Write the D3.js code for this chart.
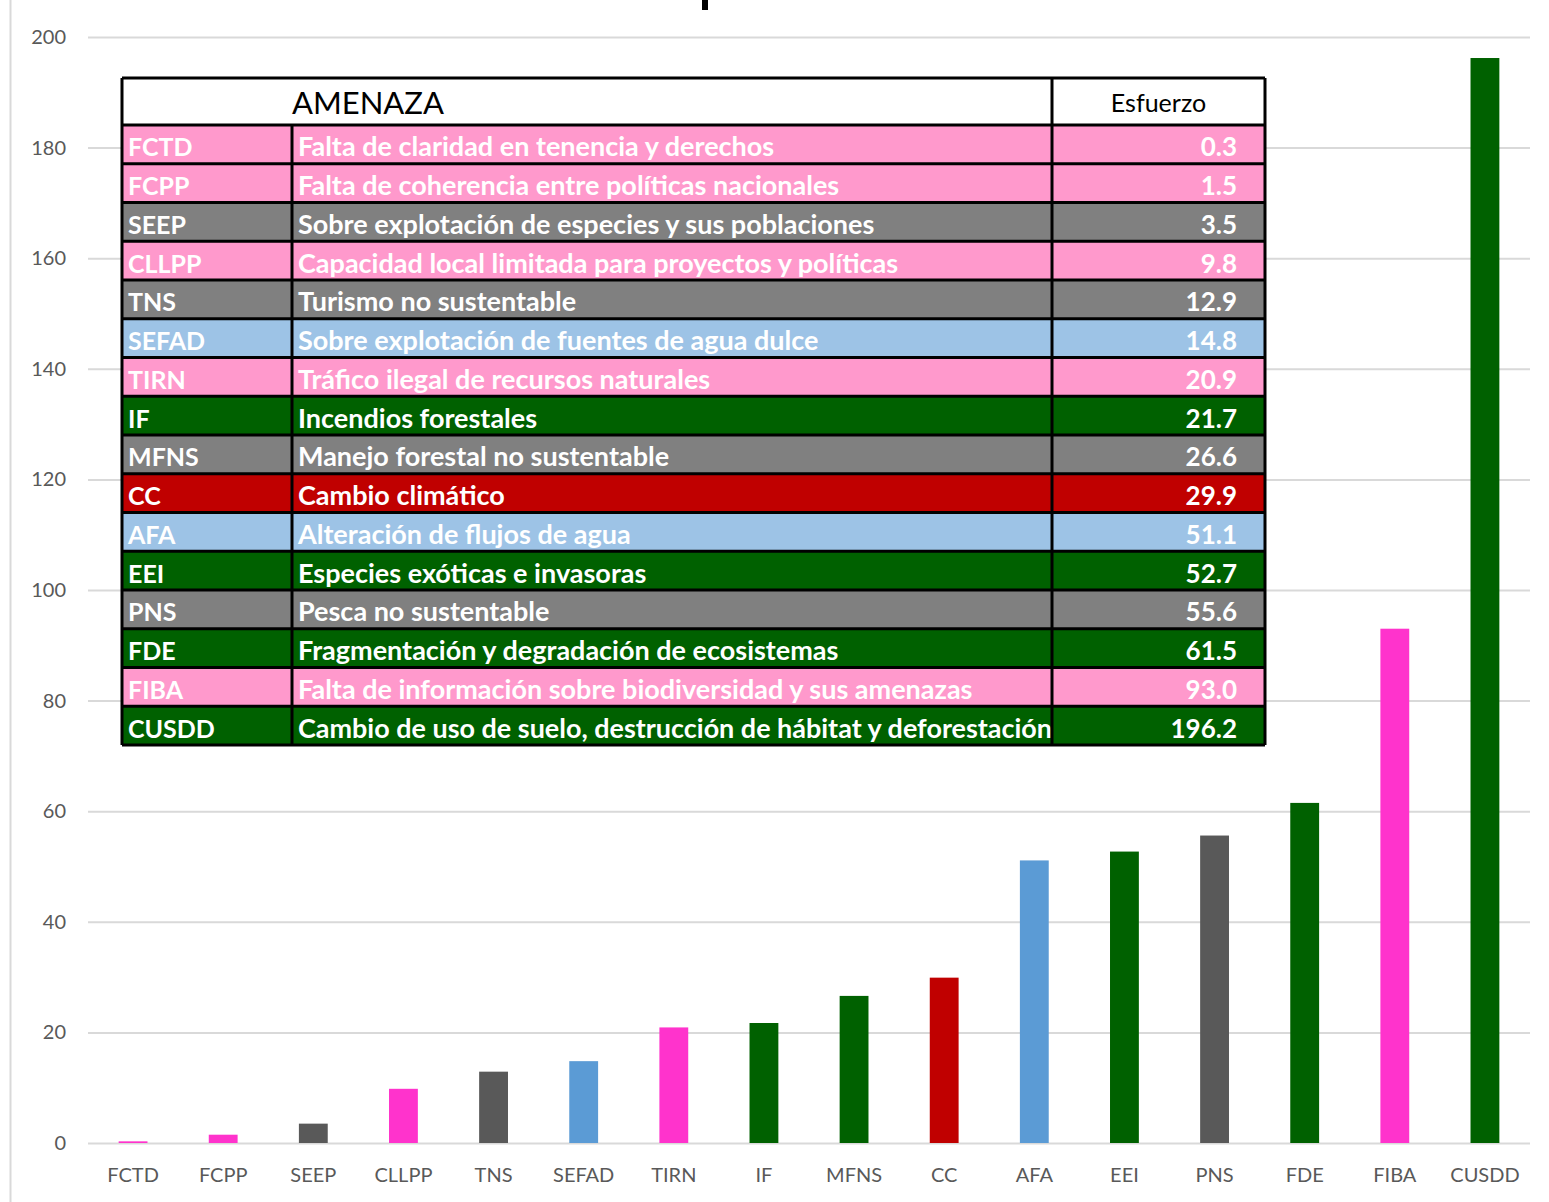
<!DOCTYPE html>
<html>
<head>
<meta charset="utf-8">
<script src="https://cdn.jsdelivr.net/npm/d3@7"></script>
<style>
  body { margin: 0; background: #fff; }
  svg { display: block; }
</style>
</head>
<body>
<div id="chart"></div>
<script>
const codes = ["FCTD", "FCPP", "SEEP", "CLLPP", "TNS", "SEFAD", "TIRN", "IF", "MFNS", "CC", "AFA", "EEI", "PNS", "FDE", "FIBA", "CUSDD"];
const names = [
  "Falta de claridad en tenencia y derechos",
  "Falta de coherencia entre políticas nacionales",
  "Sobre explotación de especies y sus poblaciones",
  "Capacidad local limitada para proyectos y políticas",
  "Turismo no sustentable",
  "Sobre explotación de fuentes de agua dulce",
  "Tráfico ilegal de recursos naturales",
  "Incendios forestales",
  "Manejo forestal no sustentable",
  "Cambio climático",
  "Alteración de flujos de agua",
  "Especies exóticas e invasoras",
  "Pesca no sustentable",
  "Fragmentación y degradación de ecosistemas",
  "Falta de información sobre biodiversidad y sus amenazas",
  "Cambio de uso de suelo, destrucción de hábitat y deforestación"
];
const esfuerzo = [0.3, 1.5, 3.5, 9.8, 12.9, 14.8, 20.9, 21.7, 26.6, 29.9, 51.1, 52.7, 55.6, 61.5, 93.0, 196.2];
// colour group per threat, table rows and bars (s = social, e = species, w = water, g = forest, c = climate)
const rowGroups = ["s", "s", "e", "s", "e", "w", "s", "g", "e", "c", "w", "g", "e", "g", "s", "g"];
const barGroups = ["s", "s", "e", "s", "e", "w", "s", "g", "g", "c", "w", "g", "e", "g", "s", "g"];
const yTicks = [0, 20, 40, 60, 80, 100, 120, 140, 160, 180, 200];

const barColor = {s: "#FF33CC", e: "#595959", w: "#5B9BD5", g: "#006100", c: "#C00000"};
const rowColor = {s: "#FF99CC", e: "#808080", w: "#9DC3E6", g: "#006100", c: "#C00000"};

const W = 1549, H = 1202;
const svg = d3.select("#chart").append("svg")
    .attr("width", W)
    .attr("height", H);

// left frame line of the original picture
svg.append("line")
    .attr("x1", 10.5).attr("x2", 10.5)
    .attr("y1", 0).attr("y2", H)
    .attr("stroke", "#D9D9D9")
    .attr("stroke-width", 2);

// clipped fragment of the title at the very top
svg.append("rect")
    .attr("x", 702).attr("y", 0)
    .attr("width", 6).attr("height", 10)
    .attr("fill", "#000");

const x = d3.scaleBand()
    .domain(codes)
    .range([88, 1530])
    .paddingInner(0.68)
    .paddingOuter(0.34);

const y = d3.scaleLinear()
    .domain([0, 200])
    .range([1143, 37]);

// gridlines + labels
const yAxis = svg.append("g")
    .attr("transform", "translate(88,0)")
    .call(d3.axisLeft(y).tickValues(yTicks).tickSize(-(1530 - 88)).tickPadding(22));
yAxis.select(".domain").remove();
yAxis.selectAll(".tick line").attr("stroke", "#D9D9D9").attr("stroke-width", 2);
yAxis.selectAll(".tick text")
    .attr("fill", "#595959")
    .style("font-family", "Lato, 'Open Sans', sans-serif")
    .style("font-size", "20px");

const xAxis = svg.append("g")
    .attr("transform", "translate(0,1143)")
    .call(d3.axisBottom(x).tickSize(0).tickPadding(25));
xAxis.select(".domain").remove();
xAxis.selectAll(".tick text")
    .attr("fill", "#595959")
    .attr("dy", "0.71em")
    .style("font-family", "Lato, 'Open Sans', sans-serif")
    .style("font-size", "20px");

// bars
svg.append("g")
  .selectAll("rect")
  .data(codes)
  .join("rect")
    .attr("x", d => x(d))
    .attr("width", x.bandwidth())
    .attr("y", (d, i) => y(esfuerzo[i]))
    .attr("height", (d, i) => y(0) - y(esfuerzo[i]))
    .attr("fill", (d, i) => barColor[barGroups[i]]);

// table
const col = [122, 292, 1052, 1265];
const tTop = 78, headH = 47;
const rows = d3.scaleBand()
    .domain(codes)
    .range([tTop + headH, 745]);

const tbl = svg.append("g");
tbl.append("rect")
    .attr("x", col[0]).attr("y", tTop)
    .attr("width", col[3] - col[0]).attr("height", headH)
    .attr("fill", "#fff");

const row = tbl.selectAll("g.row")
  .data(codes)
  .join("g")
    .attr("class", "row")
    .attr("transform", d => `translate(0,${rows(d)})`);

row.append("rect")
    .attr("x", col[0]).attr("width", col[3] - col[0])
    .attr("height", rows.bandwidth())
    .attr("fill", (d, i) => rowColor[rowGroups[i]]);

const cellFont = "Lato, 'Open Sans', sans-serif";
function fit(sel, maxW) {
  sel.each(function() {
    const len = this.getComputedTextLength();
    if (len > maxW) d3.select(this).attr("textLength", maxW).attr("lengthAdjust", "spacingAndGlyphs");
  });
}

const baseY = rows.bandwidth() / 2 + 12;

row.append("text")
    .attr("x", col[0] + 6)
    .attr("y", baseY)
    .attr("fill", "#fff")
    .style("font-family", cellFont)
    .style("font-weight", "bold")
    .style("font-size", "25px")
    .text(d => d);

row.append("text")
    .attr("x", col[1] + 6)
    .attr("y", baseY)
    .attr("fill", "#fff")
    .style("font-family", cellFont)
    .style("font-weight", "bold")
    .style("font-size", "27px")
    .text((d, i) => names[i])
    .call(fit, col[2] - col[1] - 6);

row.append("text")
    .attr("x", col[3] - 28)
    .attr("y", baseY)
    .attr("text-anchor", "end")
    .attr("fill", "#fff")
    .style("font-family", cellFont)
    .style("font-weight", "bold")
    .style("font-size", "26px")
    .text((d, i) => esfuerzo[i].toFixed(1));

// header text
tbl.append("text")
    .attr("x", 292)
    .attr("y", tTop + 36)
    .attr("fill", "#000")
    .style("font-family", cellFont)
    .style("font-size", "31px")
    .text("AMENAZA");
tbl.append("text")
    .attr("x", (col[2] + col[3]) / 2)
    .attr("y", tTop + 34)
    .attr("text-anchor", "middle")
    .attr("fill", "#000")
    .style("font-family", cellFont)
    .style("font-size", "25px")
    .text("Esfuerzo");

// borders
const lineW = 3;
const hLines = [tTop, tTop + headH].concat(codes.map(d => rows(d) + rows.bandwidth()));
tbl.selectAll("line.h")
  .data(hLines)
  .join("line")
    .attr("class", "h")
    .attr("x1", col[0]).attr("x2", col[3])
    .attr("y1", d => d).attr("y2", d => d)
    .attr("stroke", "#000").attr("stroke-width", lineW);
tbl.selectAll("line.v")
  .data([
    {x: col[0], y0: tTop}, {x: col[1], y0: tTop + headH},
    {x: col[2], y0: tTop}, {x: col[3], y0: tTop}
  ])
  .join("line")
    .attr("class", "v")
    .attr("x1", d => d.x).attr("x2", d => d.x)
    .attr("y1", d => d.y0).attr("y2", 745)
    .attr("stroke", "#000").attr("stroke-width", lineW);
</script>
</body>
</html>
